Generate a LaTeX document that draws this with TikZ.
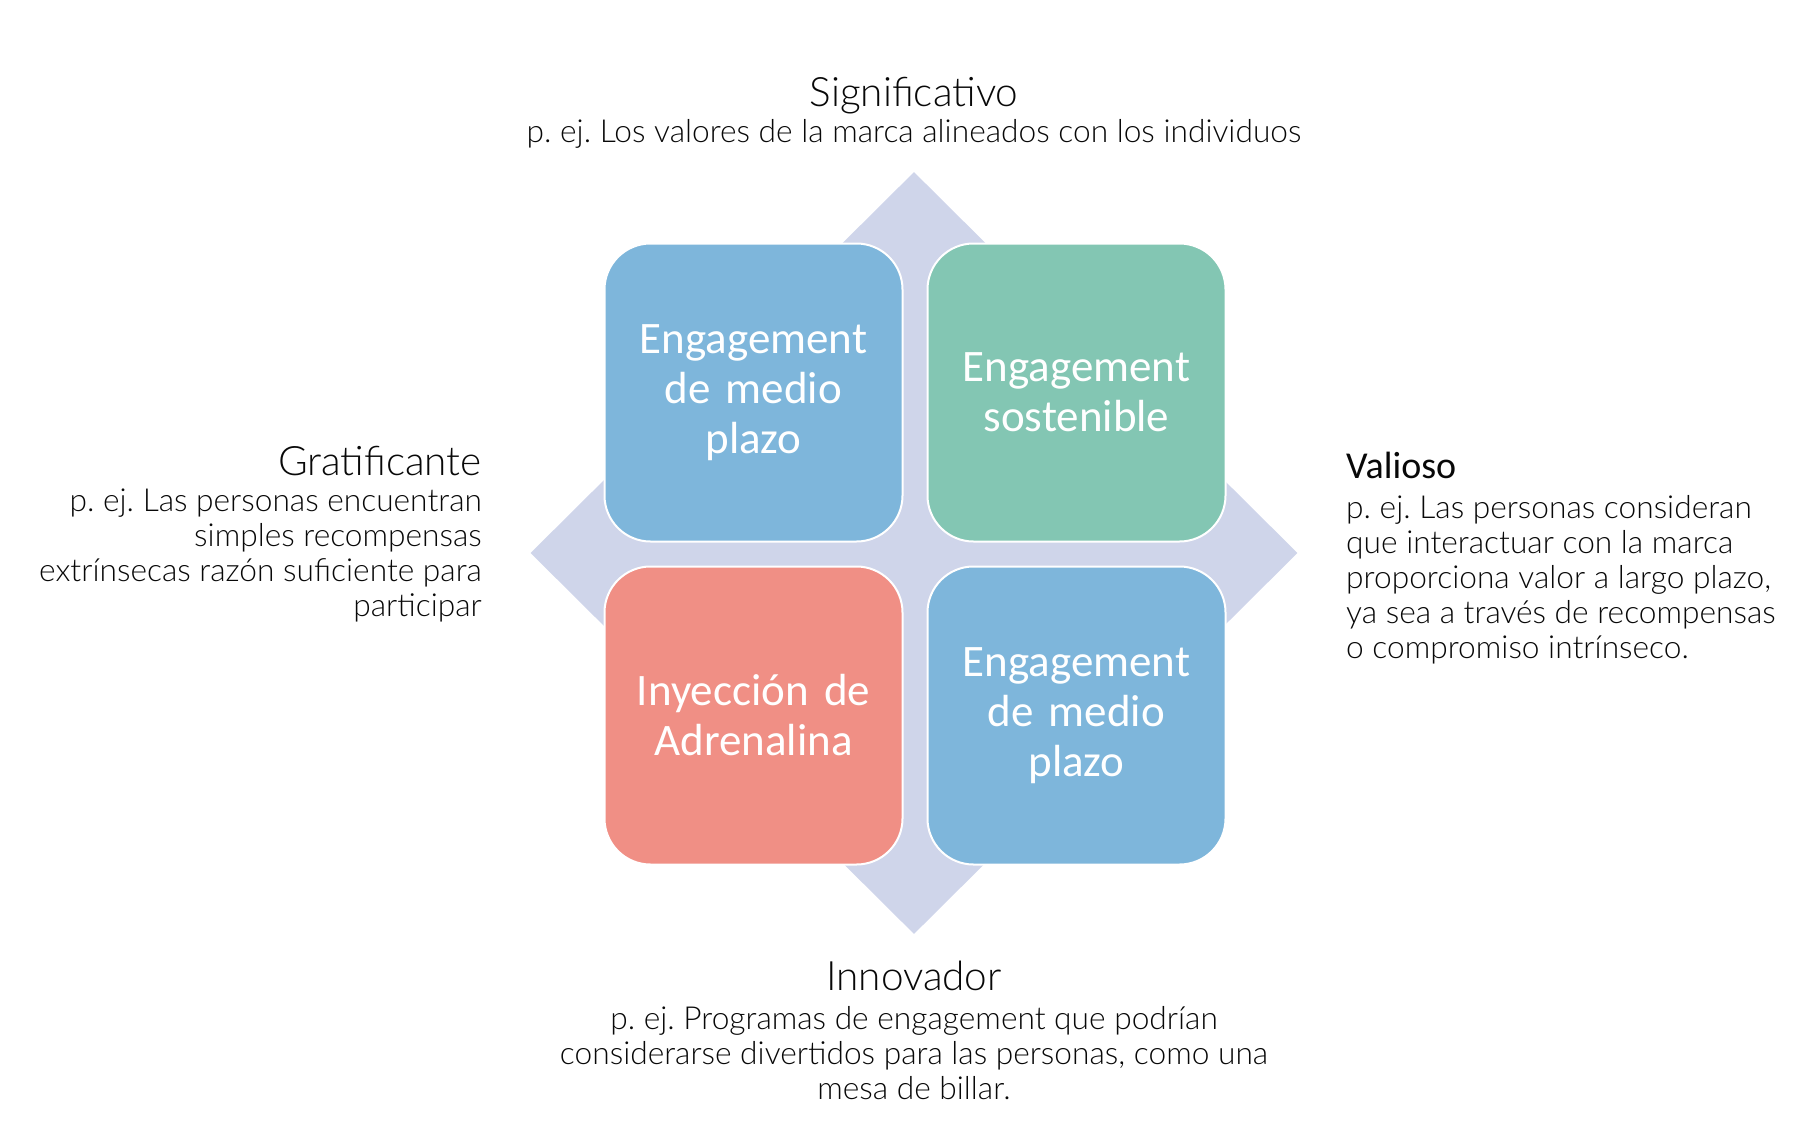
\documentclass[tikz,border=0pt]{standalone}
\usepackage{fontspec}
\setmainfont{Lato Light}
\newfontfamily\boxfont{Carlito}
\usepackage{tikz}
\usetikzlibrary{shapes.geometric, positioning}
\definecolor{axislilac}{RGB}{207,213,234}
\definecolor{quadblue}{RGB}{126,182,219}
\definecolor{quadgreen}{RGB}{131,198,179}
\definecolor{quadred}{RGB}{240,143,133}
\definecolor{labelink}{RGB}{8,8,8}
\frenchspacing

\begin{document}
\begin{tikzpicture}[x=1pt, y=-1pt,
  quad/.style={draw=white, line width=2pt, rounded corners=46pt, minimum size=298pt,
    text width=270pt, align=center, text=white, font=\boxfont\fontsize{45}{50}\selectfont},
  axistitle/.style={font=\fontsize{40.5}{44}\selectfont, text=labelink, inner sep=0pt},
  axistext/.style={font=\fontsize{31.7}{35}\selectfont, text=labelink, inner sep=0pt}]
  \useasboundingbox (0,0) rectangle (1807,1122);

  % the four directions behind the grid
  \node[diamond, fill=axislilac, minimum width=767pt, minimum height=762pt, inner sep=0pt] (axis) at (914,553) {};

  % quadrants
  \node[quad, fill=quadblue] (midtop) at (753.5,392.5) {Engagement\\de medio\\plazo};
  \node[quad, fill=quadgreen, right=23pt of midtop] (sustain) {Engagement\\sostenible};
  \node[quad, fill=quadred, below=23pt of midtop] (rush) {Inyección de\\Adrenalina};
  \node[quad, fill=quadblue, below=23pt of sustain] (midbottom) {Engagement\\de medio\\plazo};

  % axis labels
  \node[axistitle, anchor=base] (sigtitle) at (914,106) {Significativo};
  \node[axistext, anchor=base] (sigtext) at (914,142) {p. ej. Los valores de la marca alineados con los individuos};

  \node[axistitle, anchor=base east] (grattitle) at (482,475) {Gratificante};
  \node[axistext, anchor=north east, align=right] (grattext) at (482,489) {p. ej. Las personas encuentran\\simples recompensas\\extrínsecas razón suficiente para\\participar};

  \node[axistitle, font=\boxfont\fontsize{38}{44}\selectfont, anchor=base west] (valtitle) at (1346,478) {Valioso};
  \node[axistext, anchor=north west, align=left] (valtext) at (1346,495) {p. ej. Las personas consideran\\que interactuar con la marca\\proporciona valor a largo plazo,\\ya sea a través de recompensas\\o compromiso intrínseco.};

  \node[axistitle, anchor=base] (innotitle) at (914,990) {Innovador};
  \node[axistext, anchor=north, align=center] (innotext) at (914,1006) {p. ej. Programas de engagement que podrían\\considerarse divertidos para las personas, como una\\mesa de billar.};
\end{tikzpicture}
\end{document}
